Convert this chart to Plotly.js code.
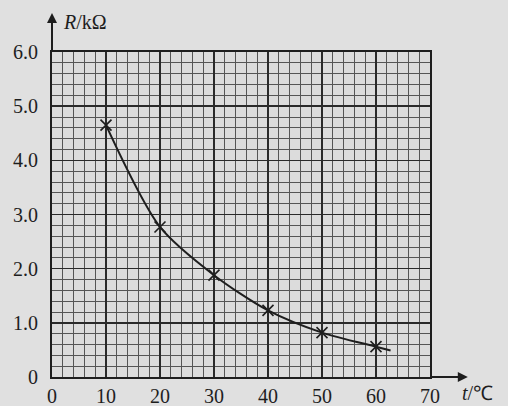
<!DOCTYPE html>
<html><head><meta charset="utf-8">
<script src="https://cdn.plot.ly/plotly-3.0.1.min.js"></script>
<style>html,body{margin:0;padding:0;background:#e0e0e0;}#c{width:508px;height:406px;}</style>
</head><body><div id="c"></div>
<script>
// measured points (t in °C, R in kΩ)
var tPoints = [10, 20, 30, 40, 50, 60];
var rPoints = [4.65, 2.77, 1.88, 1.23, 0.82, 0.56];
// hand-drawn fitted curve (passes through points, extends a bit past 60)
var tCurve = [10, 20, 30, 40, 50, 60, 62.7];
var rCurve = [4.65, 2.77, 1.88, 1.23, 0.82, 0.56, 0.49];
var xTicks = [0, 10, 20, 30, 40, 50, 60, 70];
var xTickText = ['0', '10', '20', '30', '40', '50', '60', '70'];
var yTicks = [0, 1, 2, 3, 4, 5, 6];
var yTickText = ['0', '1.0', '2.0', '3.0', '4.0', '5.0', '6.0'];

var ink = '#1e1e1e';
var font = {family: 'Liberation Serif, serif', size: 20, color: ink};

var traces = [
  {x: tCurve, y: rCurve, mode: 'lines', line: {color: ink, width: 2, shape: 'spline', smoothing: 0.8}, hoverinfo: 'skip'},
  {x: tPoints, y: rPoints, mode: 'markers', marker: {symbol: 'x-thin', size: 11, line: {color: ink, width: 1.6}}}
];

var pw = 508 - 52 - 78, ph = 406 - 52 - 29;
var layout = {
  width: 508, height: 406,
  margin: {l: 52, r: 78, t: 52, b: 29, pad: 0},
  paper_bgcolor: '#e0e0e0', plot_bgcolor: '#dcdcdc',
  showlegend: false,
  font: font,
  xaxis: {
    range: [0, 70], tickvals: xTicks, ticktext: xTickText,
    showgrid: true, gridcolor: '#2a2a2a', gridwidth: 1.6,
    minor: {dtick: 2, tick0: 0, showgrid: true, gridcolor: '#555555', gridwidth: 1},
    showline: true, linecolor: ink, linewidth: 2, mirror: true,
    ticks: '',
    zeroline: false, fixedrange: true, tickfont: font
  },
  yaxis: {
    range: [0, 6], tickvals: yTicks, ticktext: yTickText,
    showgrid: true, gridcolor: '#2a2a2a', gridwidth: 1.6,
    minor: {dtick: 0.2, tick0: 0, showgrid: true, gridcolor: '#555555', gridwidth: 1},
    showline: true, linecolor: ink, linewidth: 2, mirror: true,
    ticks: 'outside', ticklen: 8, tickcolor: 'rgba(0,0,0,0)',
    zeroline: false, fixedrange: true, tickfont: font
  },
  annotations: [
    {x: 0, y: 6.72, xref: 'x', yref: 'y', ax: 0, ay: 6.0, axref: 'x', ayref: 'y',
     showarrow: true, arrowhead: 2, arrowsize: 1, arrowwidth: 2, arrowcolor: ink, text: ''},
    {x: 77, y: 0, xref: 'x', yref: 'y', ax: 70, ay: 0, axref: 'x', ayref: 'y',
     showarrow: true, arrowhead: 2, arrowsize: 1, arrowwidth: 2, arrowcolor: ink, text: ''},
    {x: (61 - 52) / pw, y: (406 - 29 - 22) / ph, xref: 'paper', yref: 'paper', text: '<i>R</i>/kΩ', showarrow: false,
     xanchor: 'left', yanchor: 'middle', font: font},
    {x: (460 - 52) / pw, y: (406 - 29 - 393) / ph, xref: 'paper', yref: 'paper', text: '<i>t</i>/℃', showarrow: false,
     xanchor: 'left', yanchor: 'middle', font: font}
  ]
};

Plotly.newPlot('c', traces, layout, {displayModeBar: false, staticPlot: true});
</script></body></html>
